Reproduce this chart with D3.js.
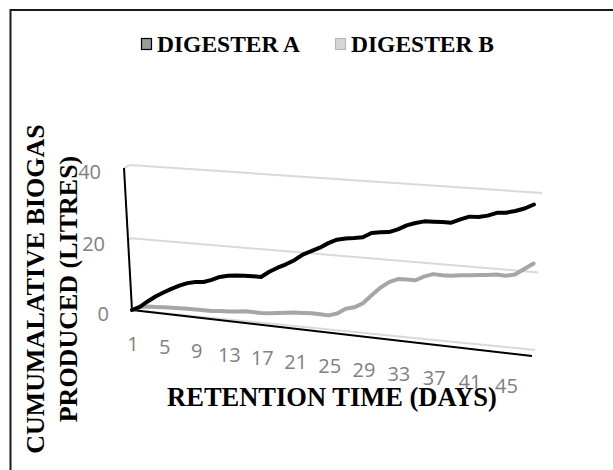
<!DOCTYPE html>
<html>
<head>
<meta charset="utf-8">
<script src="https://cdn.jsdelivr.net/npm/d3@7"></script>
<style>
  html, body { margin: 0; padding: 0; background: #fff; overflow: hidden; }
  svg { display: block; }
</style>
</head>
<body>
<svg id="chart" width="613" height="470"></svg>
<script>
// Retention time (days) and cumulative biogas (litres) for each digester
const days = d3.range(1, 49);
const digesterA = [0, 1.1, 2.8, 4.4, 5.7, 6.9, 8.0, 8.9, 9.4, 9.6, 10.4, 11.4, 11.9, 12.2, 12.3, 12.4,
  12.4, 14.0, 15.3, 16.4, 17.7, 19.4, 20.5, 21.6, 23.0, 24.1, 24.6, 24.9, 25.3, 26.6, 27.0, 27.2,
  28.1, 29.3, 30.1, 30.7, 30.8, 30.9, 30.9, 31.9, 32.8, 32.9, 33.4, 34.3, 34.5, 35.1, 35.9, 37.1];
const digesterB = [0, 1.0, 1.4, 1.5, 1.6, 1.7, 1.8, 1.9, 1.9, 1.9, 1.9, 2.1, 2.2, 2.4, 2.7, 2.7,
  2.7, 2.8, 3.1, 3.4, 3.7, 3.8, 3.9, 3.9, 3.8, 4.5, 6.0, 6.6, 7.9, 10.2, 12.4, 14.1,
  15.1, 15.2, 15.2, 16.4, 17.2, 17.1, 17.2, 17.5, 17.7, 18.0, 18.2, 18.5, 18.4, 18.9, 20.5, 22.1];
const seriesNames = ["DIGESTER A", "DIGESTER B"];
const xTickDays = [1, 5, 9, 13, 17, 21, 25, 29, 33, 37, 41, 45];
const yTicks = [0, 20, 40];
const xTitle = "RETENTION TIME (DAYS)";
const yTitleLines = ["CUMUMALATIVE BIOGAS", "PRODUCED (LITRES)"];

const svg = d3.select("#chart");

// Maps the unit square onto a quadrilateral (projective transform) so the
// plot can be drawn as a plane seen in perspective.
function perspectiveQuad(p00, p10, p11, p01) {
  const [x0, y0] = p00, [x1, y1] = p10, [x2, y2] = p11, [x3, y3] = p01;
  const dx1 = x1 - x2, dx2 = x3 - x2, dx3 = x0 - x1 + x2 - x3;
  const dy1 = y1 - y2, dy2 = y3 - y2, dy3 = y0 - y1 + y2 - y3;
  const den = dx1 * dy2 - dx2 * dy1;
  const g = (dx3 * dy2 - dx2 * dy3) / den;
  const h = (dx1 * dy3 - dx3 * dy1) / den;
  const a = x1 - x0 + g * x1, b = x3 - x0 + h * x3, c = x0;
  const d = y1 - y0 + g * y1, e = y3 - y0 + h * y3, f = y0;
  return (u, v) => {
    const w = g * u + h * v + 1;
    return [(a * u + b * v + c) / w, (d * u + e * v + f) / w];
  };
}

// Scales into unit plane coordinates
const x = d3.scaleLinear().domain([1, 48]).range([0, 1]);
const y = d3.scaleLinear().domain([0, 40]).range([0, 1]);

// Planes: series ribbon, back wall (gridlines) and front edge (axes)
const seriesPlane = perspectiveQuad([132, 310], [533, 350], [534, 193], [130, 165]);
const wallPlane   = perspectiveQuad([132, 310], [535, 350], [542, 193], [130, 165]);
const frontPlane  = perspectiveQuad([132, 310], [532, 356], [536, 197], [124, 168]);

// Outer frame of the chart area
svg.append("rect")
  .attr("x", 10.5).attr("y", 10)
  .attr("width", 700).attr("height", 600)
  .attr("fill", "none")
  .attr("stroke", "#1a1a1a")
  .attr("stroke-width", 2);

// Gridlines on the back wall, joined to the value axis along the side wall
const grid = svg.append("g").attr("stroke", "#d9d9d9").attr("stroke-width", 2).attr("fill", "none");
yTicks.forEach(t => {
  const w0 = wallPlane(0, y(t)), w1 = wallPlane(1, y(t)), f0 = frontPlane(0, y(t));
  grid.append("path").attr("d", d3.line()([f0, w0, w1]));
});

// Axis lines
const axes = svg.append("g").attr("stroke", "#000").attr("stroke-width", 2).attr("fill", "none");
axes.append("path").attr("d", d3.line()([frontPlane(0, y(40)), frontPlane(0, y(0))]));
axes.append("path").attr("d", d3.line()([frontPlane(0, y(0)), frontPlane(1, y(0))]));

// Value axis labels
const tickFont = "'Open Sans', 'Noto Sans', sans-serif";
svg.append("g").selectAll("text").data(yTicks).join("text")
  .attr("x", d => frontPlane(0, y(d))[0] - 23)
  .attr("y", d => frontPlane(0, y(d))[1] + 3)
  .attr("text-anchor", "end")
  .attr("dominant-baseline", "central")
  .attr("font-family", tickFont)
  .attr("font-size", 20)
  .attr("fill", "#808080")
  .text(d => d);

// Category labels along the front edge
const f0 = frontPlane(0, 0), f1 = frontPlane(1, 0);
const frontEdgeY = px => f0[1] + (px - f0[0]) * (f1[1] - f0[1]) / (f1[0] - f0[0]);
svg.append("g").selectAll("text").data(xTickDays).join("text")
  .attr("x", d => seriesPlane(x(d), 0)[0] + 1)
  .attr("y", d => frontEdgeY(seriesPlane(x(d), 0)[0]) + 33)
  .attr("text-anchor", "middle")
  .attr("dominant-baseline", "central")
  .attr("font-family", tickFont)
  .attr("font-size", 20)
  .attr("fill", "#808080")
  .text(d => d);

// Series lines
const line = d3.line()
  .x(d => seriesPlane(x(d[0]), y(d[1]))[0])
  .y(d => seriesPlane(x(d[0]), y(d[1]))[1]);
const seriesData = [
  { name: seriesNames[1], values: digesterB, color: "#a6a6a6" },
  { name: seriesNames[0], values: digesterA, color: "#000000" }
];
svg.append("g").selectAll("path").data(seriesData).join("path")
  .attr("d", s => line(days.map((dd, i) => [dd, s.values[i]])))
  .attr("fill", "none")
  .attr("stroke", s => s.color)
  .attr("stroke-width", 4)
  .attr("stroke-linejoin", "round")
  .attr("stroke-linecap", "round");

// Legend
const titleFont = "'Liberation Serif', 'Times New Roman', serif";
const legendItems = [
  { name: seriesNames[0], x: 141, fill: "#9a9a9a", stroke: "#000" },
  { name: seriesNames[1], x: 335, fill: "#d6d6d6", stroke: "#b8b8b8" }
];
const legend = svg.append("g");
legendItems.forEach(it => {
  legend.append("rect")
    .attr("x", it.x + 0.5).attr("y", 38.5)
    .attr("width", 10).attr("height", 11)
    .attr("fill", it.fill).attr("stroke", it.stroke).attr("stroke-width", 1.2);
  legend.append("text")
    .attr("x", it.x + 16).attr("y", 52)
    .attr("font-family", titleFont)
    .attr("font-weight", "bold")
    .attr("font-size", 23.5)
    .attr("fill", "#000")
    .text(it.name);
});

// Axis titles
svg.append("text")
  .attr("x", 332).attr("y", 406)
  .attr("text-anchor", "middle")
  .attr("font-family", titleFont)
  .attr("font-weight", "bold")
  .attr("font-size", 26.5)
  .text(xTitle);

const yTitle = svg.append("text")
  .attr("transform", "translate(44,289) rotate(-90)")
  .attr("text-anchor", "middle")
  .attr("font-family", titleFont)
  .attr("font-weight", "bold")
  .attr("font-size", 26);
yTitle.append("tspan").attr("x", 0).attr("y", 0).text(yTitleLines[0]);
yTitle.append("tspan").attr("x", 0).attr("y", 33).text(yTitleLines[1]);
</script>
</body>
</html>
